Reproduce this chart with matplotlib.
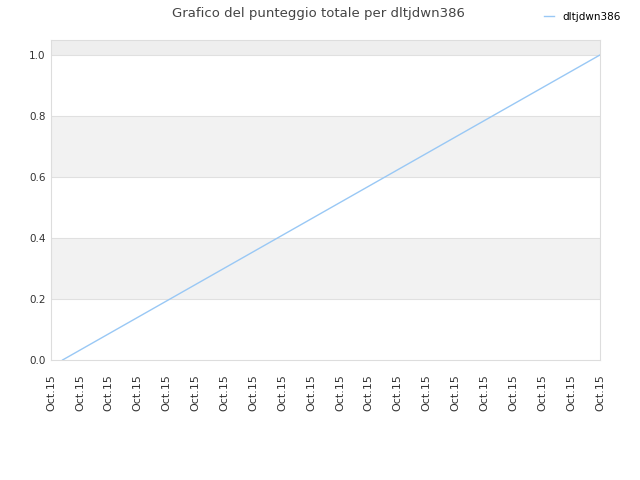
import numpy as np
import matplotlib
matplotlib.use('Agg')
import matplotlib.pyplot as plt

# data
tick_labels = ['Oct.15'] * 20
x_pos = [0.4, 19.0]
score = [0.0, 1.0]
y_ticks = [0.0, 0.2, 0.4, 0.6, 0.8, 1.0]

fig = plt.figure(figsize=(6.4, 4.8), dpi=100)
ax = fig.add_axes([51/640, 120/480, 549/640, 320/480])

ymax = 1.049
# alternating bands
ax.axhspan(0.2, 0.4, color='#f2f2f2', zorder=0, lw=0)
ax.axhspan(0.6, 0.8, color='#f2f2f2', zorder=0, lw=0)
ax.axhspan(1.0, ymax, color='#eeeeee', zorder=0, lw=0)
for yv in y_ticks[1:]:
    ax.axhline(yv, color='#e0e0e0', lw=0.8, zorder=1)

ax.plot(x_pos, score, color='#99c8f5', lw=1, label='dltjdwn386', zorder=3)

ax.set_xlim(0, len(tick_labels) - 1)
ax.set_ylim(0, ymax)
ax.set_xticks(range(len(tick_labels)))
ax.set_xticklabels(tick_labels, rotation=90, fontsize=8, color='#333333')
ax.set_yticks(y_ticks)
ax.set_yticklabels(['%.1f' % v for v in y_ticks], fontsize=7.5, color='#333333')
ax.tick_params(axis='y', length=0, pad=4)
ax.tick_params(axis='x', length=0, pad=10)
for s in ax.spines.values():
    s.set_color('#dddddd')

fig.suptitle('Grafico del punteggio totale per dltjdwn386', x=0.497, y=0.985,
             fontsize=9.5, color='#444444')
fig.legend(loc='upper right', bbox_to_anchor=(0.985, 0.995), frameon=False,
           fontsize=7.5, handlelength=1.0, handletextpad=0.8)

fig.savefig('out.png', dpi=100)
